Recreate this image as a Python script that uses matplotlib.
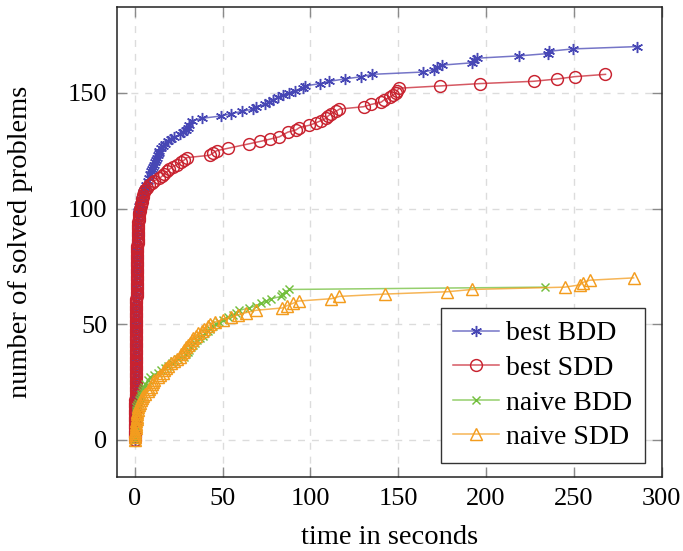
import matplotlib
matplotlib.use("Agg")
import matplotlib.pyplot as plt

plt.rcParams['font.family'] = ['Liberation Serif', 'DejaVu Serif']

# cactus data: time (s) at which the n-th problem is solved
best_bdd_t = [0.0, 0.03, 0.06, 0.09, 0.12, 0.15, 0.18, 0.21, 0.24, 0.27,
              0.3, 0.33, 0.36, 0.39, 0.41, 0.43, 0.45, 0.47, 0.49, 0.51,
              0.53, 0.55, 0.57, 0.59, 0.61, 0.63, 0.65, 0.67, 0.69, 0.71,
              0.74, 0.77, 0.8, 0.84, 0.88, 0.92, 0.96, 1.0, 1.04, 1.08,
              1.12, 1.17, 1.22, 1.28, 1.35, 1.42, 1.5, 1.6, 1.7, 1.85,
              2.0, 2.3, 2.6, 3.0, 3.5, 4.0, 4.5, 5.2, 6.0, 6.6, 7.3, 8.0,
              8.7, 9.2, 9.8, 10.4, 11.1, 11.6, 12.0, 12.5, 13.0, 13.5, 14.0, 15.0, 15.9,
              17.3, 18.7, 20.6, 22.5, 25.7, 27.6, 29.0, 30.0, 31.0, 32.6, 38.3, 49.0,
              54.8, 61.0, 67.5, 68.7, 74.3, 76.6, 78.5, 81.4, 84.6, 88.0, 91.0, 95.6,
              97.0, 105.5, 110.8, 119.4, 129.0, 135.0, 164.0, 170.5, 172.0, 175.0,
              192.0, 193.0, 195.0, 219.0, 235.4, 236.0, 249.5, 286.0]
best_bdd_n = [0, 2, 4, 6, 8, 10, 12, 14, 16, 18,
              20, 22, 24, 26, 28, 30, 32, 34, 36, 38,
              40, 42, 44, 46, 48, 50, 52, 54, 56, 58,
              60, 62, 64, 66, 68, 70, 72, 74, 76, 78,
              80, 82, 84, 86, 88, 90, 92, 94, 96, 98,
              99, 100, 101, 102, 104, 105, 107, 108, 109, 110, 112, 113,
              115, 116, 117, 118, 119, 120, 121, 122, 123, 124, 125, 126, 127,
              128, 129, 130, 131, 132, 133, 134, 135, 136, 138, 139, 140,
              141, 142, 143, 144, 145, 146, 147, 148, 149, 150, 151, 152,
              153, 154, 155, 156, 157, 158, 159, 160, 161, 162,
              163, 164, 165, 166, 167, 168, 169, 170]

best_sdd_t = [0.0, 0.02, 0.04, 0.06, 0.08, 0.1, 0.12, 0.14, 0.16, 0.18,
              0.2, 0.22, 0.24, 0.26, 0.28, 0.3, 0.32, 0.34, 0.36, 0.38,
              0.4, 0.41, 0.42, 0.44, 0.45, 0.46, 0.48, 0.49, 0.5, 0.51,
              0.52, 0.53, 0.54, 0.55, 0.56, 0.57, 0.58, 0.59, 0.6, 0.61,
              0.62, 0.63, 0.64, 0.65, 0.66, 0.67, 0.68, 0.69, 0.7, 0.71,
              0.72, 0.73, 0.74, 0.75, 0.76, 0.78, 0.8, 0.82, 0.84, 0.86,
              0.88, 0.9, 0.92, 0.94, 0.96, 0.98, 1.0, 1.02, 1.04, 1.06,
              1.08, 1.1, 1.12, 1.14, 1.16, 1.18, 1.2, 1.23, 1.26, 1.3,
              1.33, 1.36, 1.4, 1.43, 1.46, 1.5, 1.53, 1.56, 1.6, 1.65,
              1.7, 1.75, 1.8, 1.9, 2.0, 2.1, 2.2, 2.35, 2.5, 2.7,
              2.9, 3.3, 3.5, 3.8, 4.1, 4.4, 4.8, 5.3, 6.0, 7.0, 8.3,
              9.5, 11.1, 14.0, 15.5, 16.8, 18.5, 19.7, 21.5, 24.0, 26.3, 28.2, 29.5,
              42.5, 44.5, 46.6, 52.9, 65.2, 71.3, 77.0, 82.3, 87.0, 91.8, 93.7, 99.4,
              103.0, 106.0, 109.0, 110.0, 111.8, 114.6, 116.5, 130.2, 134.6, 140.3,
              142.0, 145.0, 147.0, 148.8, 149.5, 150.3, 174.0, 196.3, 227.0, 240.5,
              250.4, 268.0]
best_sdd_n = list(range(0, 101)) + [
              101, 102, 103, 104, 105, 106, 107, 108, 109, 110,
              111, 112, 113, 114, 115, 116, 117, 118, 119, 120, 121, 122,
              123, 124, 125, 126, 128, 129, 130, 131, 133, 134, 135, 136,
              137, 138, 139, 140, 141, 142, 143, 144, 145, 146,
              147, 148, 149, 150, 151, 152, 153, 154, 155, 156,
              157, 158]

naive_bdd_t = [0.0, 0.05, 0.1, 0.15, 0.2, 0.3, 0.4, 0.5, 0.6, 0.75, 0.9, 1.3, 1.8,
               2.3, 2.8, 3.2, 3.6, 4.1, 4.6, 5.3, 6.0, 7.5, 8.5, 11.0,
               13.0, 15.0, 17.0, 19.0, 21.0, 22.5, 24.5, 28.0, 29.0, 30.0, 31.0, 32.0,
               33.0, 34.0, 35.5, 37.0, 38.6, 40.0, 41.5, 42.5, 44.5, 46.3, 48.0, 50.0,
               53.0, 55.7, 57.5, 59.5, 65.2, 69.0, 72.0, 74.8, 77.6, 83.3, 84.0, 86.0,
               88.0, 233.3]
naive_bdd_n = [0, 1, 2, 3, 4, 6, 8, 10, 12, 13, 14, 15, 16,
               17, 18, 19, 20, 21, 22, 23, 24, 26, 27, 28,
               29, 30, 31, 32, 33, 34, 35, 36, 37, 38, 39, 40,
               41, 42, 43, 44, 45, 46, 47, 48, 49, 50, 51, 52,
               53, 54, 55, 56, 57, 58, 59, 60, 61, 62, 63, 64,
               65, 66]

naive_sdd_t = [0.0, 0.05, 0.1, 0.2, 0.3, 0.4, 0.55, 0.7, 0.85, 1.0, 1.15, 1.3, 1.45,
               1.6, 2.0, 2.5, 3.0, 3.5, 4.0, 4.4, 6.0, 7.5, 8.3, 9.0,
               10.0, 10.5, 11.1, 13.0, 14.5, 15.8, 16.5, 17.5, 18.7, 20.5, 22.5, 24.0,
               25.4, 26.5, 27.5, 28.2, 29.0, 30.0, 31.5, 32.3, 33.0, 35.0, 35.8, 38.0,
               39.6, 41.5, 43.0, 45.9, 50.0, 55.0, 58.6, 63.4, 69.0, 83.9, 86.7, 90.0,
               93.2, 111.8, 116.5, 142.2, 177.7, 192.0, 244.7, 253.7, 255.0, 259.0,
               284.0]
naive_sdd_n = [0, 1, 2, 3, 4, 5, 6, 7, 8, 9, 10, 11, 12,
               13, 14, 15, 16, 17, 18, 19, 20, 21, 22, 23,
               24, 25, 26, 27, 28, 29, 30, 31, 32, 33, 34, 35,
               36, 37, 38, 39, 40, 41, 42, 43, 44, 45, 46, 47,
               48, 49, 50, 51, 52, 53, 54, 55, 56, 57, 58, 59,
               60, 61, 62, 63, 64, 65, 66, 67, 68, 69,
               70]

series = [
    ("best BDD", best_bdd_t, best_bdd_n, "#4747b5", (6, 2, 0), 8),
    ("best SDD", best_sdd_t, best_sdd_n, "#c8222f", "o", 8.5),
    ("naive BDD", naive_bdd_t, naive_bdd_n, "#72bf3c", "x", 6),
    ("naive SDD", naive_sdd_t, naive_sdd_n, "#f39c1e", "^", 8),
]


def to_rgba(hexcol, a):
    h = hexcol.lstrip('#')
    return tuple(int(h[i:i + 2], 16) / 255 for i in (0, 2, 4)) + (a,)


fig = plt.figure(figsize=(6.83, 5.51), dpi=100)
ax = fig.add_axes([0.1718, 0.1338, 0.797, 0.853])

for label, t, n, col, mk, ms in series:
    ax.plot(t, n, color=to_rgba(col, 0.75), linewidth=1.1,
            marker=mk, markersize=ms, markerfacecolor='none',
            markeredgecolor=col, markeredgewidth=1.05, label=label)

ax.set_xlim(-10, 300)
ax.set_ylim(-16.2, 187)
ax.set_xticks([0, 50, 100, 150, 200, 250, 300])
ax.set_yticks([0, 50, 100, 150])

ax.grid(True, color='#dcdcdc', linestyle=(0, (5, 5)), linewidth=1.0)
ax.set_axisbelow(True)
ax.tick_params(direction='in', length=7, width=1, color='#8a8a8a',
               top=True, right=True, labelsize=19)
ax.tick_params(axis='x', pad=8)
ax.tick_params(axis='y', pad=7)
for s in ax.spines.values():
    s.set_color('#222222')
    s.set_linewidth(1.1)

ax.set_xlabel("time in seconds", fontsize=20.5)
ax.set_ylabel("number of solved problems", fontsize=20.5)
ax.xaxis.set_label_coords(0.5, -0.102)
ax.yaxis.set_label_coords(-0.155, 0.5)

leg = ax.legend(loc='lower right', bbox_to_anchor=(0.969, 0.031),
                borderaxespad=0, fontsize=20, fancybox=False, framealpha=1,
                edgecolor='#333333', handlelength=1.65, labelspacing=0.33,
                borderpad=0.45, handletextpad=0.25)
leg.get_frame().set_linewidth(1.0)

fig.savefig("out.png", dpi=100)
